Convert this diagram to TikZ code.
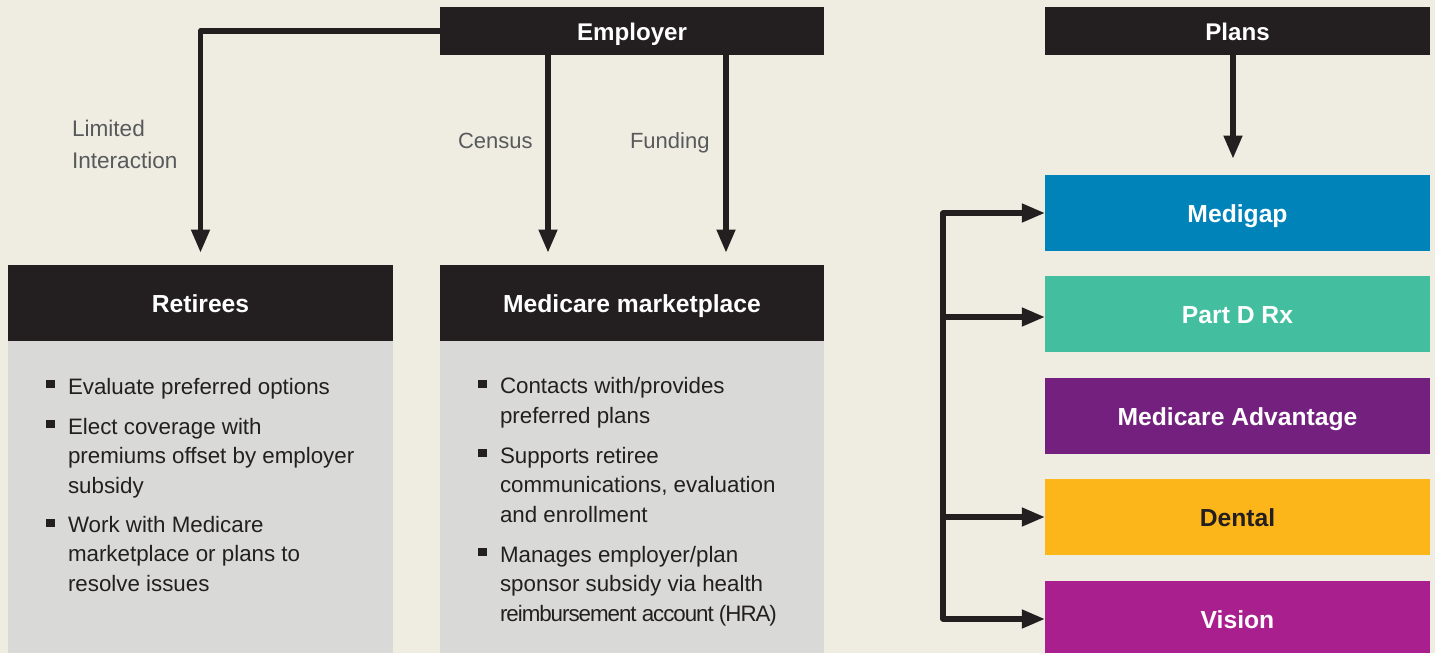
\documentclass[tikz,border=0pt]{standalone}
\usepackage{fontspec}
\setmainfont{Liberation Sans}
\usetikzlibrary{arrows.meta,calc}
\definecolor{bgc}{HTML}{EFEDE2}
\definecolor{ink}{HTML}{231F20}
\definecolor{panel}{HTML}{D9D9D7}
\definecolor{lab}{HTML}{58595B}
\definecolor{cblue}{HTML}{0083B9}
\definecolor{cgreen}{HTML}{43BFA0}
\definecolor{cpurple}{HTML}{73207F}
\definecolor{cyellow}{HTML}{FDB61A}
\definecolor{cmag}{HTML}{A91F8E}
\tikzset{
  x=0.75pt,y=-0.75pt,
  boxbase/.style={rectangle,inner sep=0pt,outer sep=0pt,font=\fontsize{18.5pt}{22pt}\selectfont\bfseries,text height=13.5pt,text depth=0pt},
  darkbox/.style={boxbase,fill=ink,text=white,minimum width=288.4pt},
  planbox/.style={boxbase,text=white,minimum width=288.4pt,minimum height=57pt},
  panelbox/.style={rectangle,fill=panel,inner sep=0pt,outer sep=0pt,minimum width=288.4pt,anchor=north west,minimum height=234pt},
  item/.style={anchor=base west,inner sep=0pt,outer sep=0pt,align=left,text=ink,font=\fontsize{16.75pt}{22.1pt}\selectfont},
  bul/.style={fill=ink,inner sep=0pt,outer sep=0pt,minimum width=6.7pt,minimum height=6.7pt},
  lbl/.style={inner sep=0pt,outer sep=0pt,anchor=base west,align=left,text=lab,font=\fontsize{16.5pt}{24pt}\selectfont},
  arr/.style={draw=ink,line width=4.3pt,line join=round,-{Triangle[length=17.6pt,width=13.2pt]}},
  trunk/.style={draw=ink,line width=4.3pt,line cap=round}
}
\begin{document}
\begin{tikzpicture}
\useasboundingbox (0,0) rectangle (1435,653);
\clip (0,0) rectangle (1435,653);
\fill[bgc] (0,0) rectangle (1435,653);
% panels
\node[panelbox] (retbody) at (8,341) {};
\node[panelbox,minimum width=288pt] (mktbody) at (440,341) {};
% headers
\node[darkbox,minimum width=288pt,minimum height=36pt,font=\fontsize{18.1pt}{22pt}\selectfont\bfseries] (employer) at (632,31) {Employer};
\node[darkbox,minimum height=36pt,font=\fontsize{18.1pt}{22pt}\selectfont\bfseries] (plans) at (1237.5,31) {Plans};
\node[darkbox,minimum height=57pt] (retirees) at (200.5,303) {Retirees};
\node[darkbox,minimum width=288pt,minimum height=57pt] (market) at (632,303) {Medicare marketplace};
% plan boxes
\node[planbox,fill=cblue] (medigap) at (1237.5,213) {Medigap};
\node[planbox,fill=cgreen] (partd) at (1237.5,314) {Part D Rx};
\node[planbox,fill=cpurple] (advantage) at (1237.5,416) {Medicare Advantage};
\node[planbox,fill=cyellow,text=ink] (dental) at (1237.5,517) {Dental};
\node[planbox,fill=cmag] (vision) at (1237.5,619) {Vision};
% labels
\node[lbl,font=\fontsize{16.95pt}{24pt}\selectfont] (limited) at (72,168) {Limited\\Interaction};
\node[lbl] (census) at (458,148) {Census};
\node[lbl] (funding) at (630,148) {Funding};
% retiree bullets
\node[bul] (b1) at (50.5,384) {};
\node[item] (t1) at (68,394) {Evaluate preferred options};
\node[bul] (b2) at (50.5,424) {};
\node[item] (t2) at (68,493) {Elect coverage with\\premiums offset by employer\\subsidy};
\node[bul] (b3) at (50.5,523) {};
\node[item] (t3) at (68,591) {Work with Medicare\\marketplace or plans to\\resolve issues};
% marketplace bullets
\node[bul] (b4) at (482.5,384) {};
\node[item] (t4) at (500,423) {Contacts with/provides\\preferred plans};
\node[bul] (b5) at (482.5,453) {};
\node[item] (t5) at (500,522) {Supports retiree\\communications, evaluation\\and enrollment};
\node[bul] (b6) at (482.5,552) {};
\node[item] (t6) at (500,621) {Manages employer/plan\\sponsor subsidy via health\\{\addfontfeatures{LetterSpace=-4.6}reimbursement account (HRA)}};
% connectors
\coordinate (cx) at (548,253);
\coordinate (fx) at (726,253);
\coordinate (px) at (1233,159);
\coordinate (j1) at (943,213);
\coordinate (j2) at (943,317);
\coordinate (j4) at (943,517);
\coordinate (j5) at (943,619);
\draw[arr,shorten >=9pt] (employer.west) -| (retirees.north);
\draw[arr] (cx |- employer.south) -- (cx);
\draw[arr] (fx |- employer.south) -- (fx);
\draw[arr] (px |- plans.south) -- (px);
\draw[trunk] (j1) -- (j5);
\draw[arr] (j1) -- (medigap.west);
\draw[arr] (j2) -- (j2 -| partd.west);
\draw[arr] (j4) -- (dental.west);
\draw[arr] (j5) -- (vision.west);
\end{tikzpicture}
\end{document}
